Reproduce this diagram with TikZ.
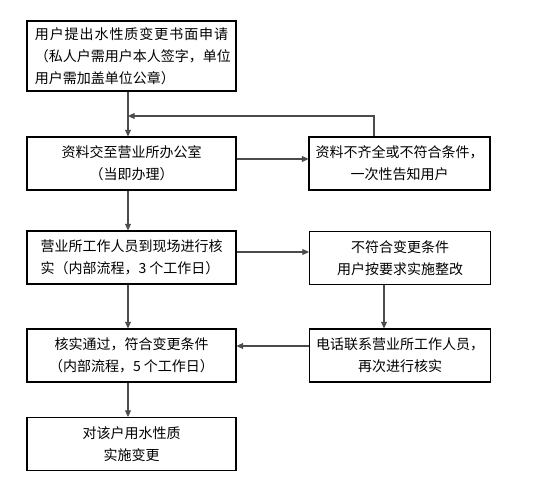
\documentclass[tikz,border=0pt]{standalone}
\usepackage{fontspec}
\setmainfont{Noto Sans CJK SC}
\usetikzlibrary{arrows.meta}
\begin{document}
\begin{tikzpicture}[x=0.75pt,y=-0.75pt,
  box/.style={draw=black,line width=0.8pt,fill=white,inner sep=0pt,
    font=\fontsize{10.5}{16.5}\selectfont},
  lbox/.style={box,minimum width=156.75pt,minimum height=39.75pt},
  rbox/.style={box,minimum width=135.75pt,minimum height=39.75pt},
  arr/.style={draw=black!70,line width=0.8pt,-{Triangle[length=5pt,width=4.5pt]}},
  ln/.style={draw=black!70,line width=0.8pt}]
\useasboundingbox (0,0) rectangle (541,498);
\fill[white] (0,0) rectangle (541,498);
\node[lbox,minimum height=52.5pt,align=left,text width=145pt] (b1) at (131.5,56)
  {用\hfill 户\hfill 提\hfill 出\hfill 水\hfill 性\hfill 质\hfill 变\hfill 更\hfill 书\hfill 面\hfill 申\hfill 请\\
   （私人户需用户本人签字，单位\\用户需加盖单位公章）};
\node[lbox,align=center] (b2) at (131.5,163.5) {资料交至营业所办公室\\（当即办理）};
\node[rbox,align=center] (b3) at (399.5,163.5) {资料不齐全或不符合条件，\\一次性告知用户};
\node[lbox,align=left] (b4) at (131.5,257.5) {营业所工作人员到现场进行核\\实（内部流程，3 个工作日）};
\node[rbox,align=center] (b5) at (400,258) {不符合变更条件\\用户按要求实施整改};
\node[rbox,align=center] (b6) at (400,355.5) {电话联系营业所工作人员，\\再次进行核实};
\node[lbox,align=center] (b7) at (131.5,355.5) {核实通过，符合变更条件\\（内部流程，5 个工作日）};
\node[lbox,align=center] (b8) at (131.5,444) {对该户用水性质\\实施变更};
\coordinate (cx) at (128,0);
\coordinate (fb) at (374,116);
\coordinate (fbl) at (128,116);
\coordinate (y1) at (0,159);
\coordinate (y2) at (0,252);
\coordinate (y3) at (0,346);
\coordinate (rx) at (384,0);
\draw[arr] (b1.south -| cx) -- (b2.north -| cx);
\draw[arr] (b3.north -| fb) -- (fb) -- (fbl);
\draw[arr] (b2.east |- y1) -- (b3.west |- y1);
\draw[arr] (b2.south -| cx) -- (b4.north -| cx);
\draw[arr] (b4.east |- y2) -- (b5.west |- y2);
\draw[arr] (b4.south -| cx) -- (b7.north -| cx);
\draw[arr] (b5.south -| rx) -- (b6.north -| rx);
\draw[arr] (b6.west |- y3) -- (b7.east |- y3);
\draw[arr] (b7.south -| cx) -- (b8.north -| cx);
\end{tikzpicture}
\end{document}
